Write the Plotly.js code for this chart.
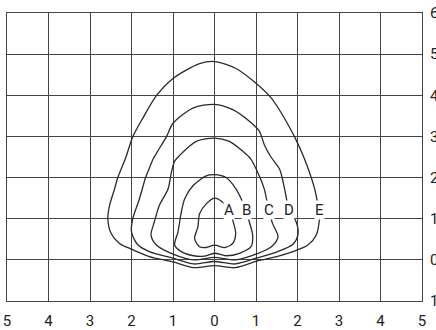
<!DOCTYPE html>
<html>
<head>
<meta charset="utf-8">
<script src="https://cdn.plot.ly/plotly-3.0.1.min.js"></script>
<style>
  html, body { margin: 0; padding: 0; background: #fff; }
  #chart { width: 436px; height: 330px; }
</style>
</head>
<body>
<div id="chart"></div>
<script>
// courbes fermées, partent du creux central en bas et tournent dans le sens trigonométrique
var curveNames = ["A", "B", "C", "D", "E"];

var xA = [0, 0.25, 0.44, 0.51, 0.43, 0.36, 0.2, 0, -0.2, -0.36, -0.40, -0.48, -0.36, -0.2, 0];
var yA = [0.36, 0.30, 0.40, 0.64, 1.0, 1.2, 1.40, 1.50, 1.36, 1.12, 0.80, 0.52, 0.32, 0.30, 0.36];

var xB = [0, 0.28, 0.60, 0.88, 0.92, 0.84, 0.75, 0.68, 0.52, 0.28, 0, -0.2, -0.52, -0.72, -0.80, -0.88, -0.96, -0.80, -0.5, -0.25, 0];
var yB = [0.16, 0.10, 0.16, 0.32, 0.60, 0.92, 1.2, 1.40, 1.72, 2.0, 2.07, 2.04, 1.80, 1.48, 1.16, 0.68, 0.36, 0.20, 0.10, 0.09, 0.16];

var xC = [0, 0.5, 1.0, 1.37, 1.53, 1.40, 1.31, 1.20, 1.08, 0.86, 0.68, 0.36, 0, -0.44, -0.84, -0.96, -1.04, -1.12, -1.33, -1.45, -1.53, -1.40, -1.0, -0.5, 0];
var yC = [0.06, 0.0, 0.14, 0.32, 0.56, 0.88, 1.2, 1.72, 2.04, 2.47, 2.64, 2.88, 2.96, 2.88, 2.54, 2.40, 2.12, 1.72, 1.32, 0.92, 0.60, 0.36, 0.14, 0.0, 0.06];

var xD = [0, 0.5, 1.0, 1.52, 1.89, 2.01, 1.97, 1.80, 1.69, 1.57, 1.36, 1.20, 1.08, 0.84, 0.44, 0, -0.52, -1.0, -1.16, -1.37, -1.48, -1.58, -1.66, -1.81, -1.97, -2.0, -1.86, -1.57, -1.0, -0.5, 0];
var yD = [-0.04, -0.10, 0.04, 0.20, 0.38, 0.60, 0.92, 1.2, 1.72, 2.2, 2.5, 2.80, 3.13, 3.37, 3.65, 3.78, 3.69, 3.32, 2.99, 2.64, 2.45, 2.2, 2.0, 1.48, 1.0, 0.68, 0.38, 0.20, 0.04, -0.10, -0.04];

var xE = [0, 0.5, 1.05, 1.5, 1.89, 2.25, 2.45, 2.53, 2.53, 2.49, 2.42, 2.33, 2.15, 1.93, 1.77, 1.61, 1.37, 1.0, 0.52, 0, -0.36, -1.0, -1.40, -1.73, -1.97, -2.14, -2.33, -2.41, -2.53, -2.57, -2.49, -2.29, -2.0, -1.57, -1.0, -0.5, 0];
var yE = [-0.14, -0.19, -0.02, 0.08, 0.20, 0.36, 0.60, 1.0, 1.2, 1.36, 1.70, 2.0, 2.5, 2.99, 3.29, 3.57, 3.93, 4.29, 4.65, 4.82, 4.77, 4.41, 3.99, 3.44, 2.99, 2.48, 2.0, 1.72, 1.32, 1.0, 0.64, 0.40, 0.26, 0.08, -0.05, -0.19, -0.14];

var labelX = [0.36, 0.77, 1.31, 1.79, 2.53];
var labelY = [1.22, 1.22, 1.22, 1.22, 1.22];

var xTicks = [-5, -4, -3, -2, -1, 0, 1, 2, 3, 4, 5];
var xTickText = ["5", "4", "3", "2", "1", "0", "1", "2", "3", "4", "5"];
var yTicks = [-1, 0, 1, 2, 3, 4, 5, 6];
var yTickText = ["1", "0", "1", "2", "3", "4", "5", "6"];

var xs = [xA, xB, xC, xD, xE];
var ys = [yA, yB, yC, yD, yE];

var data = [];
for (var i = 0; i < curveNames.length; i++) {
    data.push({
        x: xs[i],
        y: ys[i],
        type: 'scatter',
        mode: 'lines',
        name: curveNames[i],
        line: {color: '#2a2a2a', width: 1.3, shape: 'spline', smoothing: 0.8},
        hoverinfo: 'skip'
    });
}

var annotations = [];
for (var j = 0; j < curveNames.length; j++) {
    annotations.push({
        x: labelX[j],
        y: labelY[j],
        text: curveNames[j],
        showarrow: false,
        bgcolor: '#fff',
        borderpad: 0,
        font: {family: 'Roboto, sans-serif', size: 15, color: '#222'}
    });
}

var gridColor = '#444';

var layout = {
    width: 436,
    height: 330,
    margin: {l: 7, r: 14, t: 13, b: 29},
    paper_bgcolor: '#fff',
    plot_bgcolor: '#fff',
    showlegend: false,
    font: {family: 'Roboto, sans-serif', size: 15, color: '#222'},
    xaxis: {
        range: [-5, 5],
        tickvals: xTicks,
        ticktext: xTickText,
        showgrid: true,
        gridcolor: gridColor,
        gridwidth: 1,
        zeroline: false,
        showline: true,
        linecolor: gridColor,
        linewidth: 1,
        mirror: true,
        ticks: '',
        ticklabelstandoff: 6,
        fixedrange: true
    },
    yaxis: {
        range: [-1, 6],
        side: 'right',
        tickvals: yTicks,
        ticktext: yTickText,
        showgrid: true,
        gridcolor: gridColor,
        gridwidth: 1,
        zeroline: false,
        showline: true,
        linecolor: gridColor,
        linewidth: 1,
        mirror: true,
        ticks: '',
        ticklabelstandoff: 4,
        fixedrange: true
    },
    annotations: annotations
};

Plotly.newPlot('chart', data, layout, {displayModeBar: false, staticPlot: true});
</script>
</body>
</html>
